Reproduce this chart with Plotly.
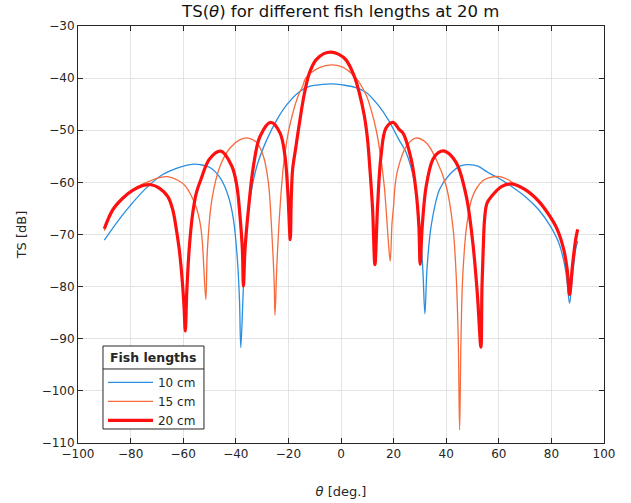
import plotly.graph_objects as go

# ---- data ----
theta_10 = [-90, -85.4, -80.4, -74.1, -67.8, -61.5, -56, -53.5, -49.7, -46, -42.8, -40.9, -39.4, -38.6, -38.1,
            -37.3, -36.5, -34.6, -32, -28.2, -24.4, -20.6, -15.8, -12, -7, -3.8, 0.6, 5.7, 9.5, 14, 18,
            22, 24.8, 28, 29.9, 31.1, 31.9, 32.7, 34.3, 37.5, 41.3, 45.7, 48.9, 52, 55.9, 60, 64.9, 70,
            75.1, 79.6, 82.8, 85.1, 86, 86.9, 88, 89.2, 90]
ts_10 = [-71.1, -67.8, -64.6, -61.1, -58.5, -57.1, -56.5, -56.6, -57.2, -59.1, -62.7, -67.1, -74.8, -82.5, -91.7,
         -82.5, -72.9, -63.3, -56.9, -51.8, -48, -45.1, -42.6, -41.6, -41.2, -41.1, -41.3, -41.8, -42.7, -45.1, -48,
         -51.8, -54.3, -60.1, -68.3, -76.6, -85.2, -76.6, -68.3, -61.3, -58.5, -56.8, -56.6, -56.9, -58.1, -59.2,
         -60.8, -62.7, -65.2, -68.4, -71.6, -76, -79.2, -83.2, -78, -72.9, -71.3]

theta_15 = [-90, -86.7, -82.9, -79.1, -75.3, -72, -69, -65.9, -62, -59, -55.2, -53.5, -52.7, -51.4, -50.8, -49.1,
            -46, -42.2, -38.4, -35.2, -32, -29.5, -27.6, -26.3, -25.4, -25.1, -24.4, -23.4, -21.9, -20, -18.1,
            -16.2, -14.6, -13.3, -8.2, -3.8, 0.6, 5.7, 9.5, 11.4, 13.4, 15.2, 16.5, 17.4, 18.1, 18.7, 19.4, 20,
            20.6, 21.6, 24.8, 28.4, 32.4, 36.2, 40, 42.5, 43.8, 44.6, 45.1, 45.6, 46.3, 47.8, 50.1, 53.9, 56.5,
            60.4, 63.6, 67.4, 70, 75.1, 79, 82.2, 84.7, 86, 86.9, 88, 89.2, 90]
ts_15 = [-69.3, -65.5, -63.1, -61.4, -60.3, -59.6, -59.1, -58.9, -59.6, -60.8, -64.6, -68, -71.6, -82.5, -72.9, -63.3,
         -56.9, -53.4, -51.8, -51.5, -52.4, -55, -60.1, -69.7, -79.3, -85.5, -76.1, -66.5, -56.9, -50.3, -46.3,
         -43.3, -41.6, -39.9, -38.0, -37.45, -37.9, -40.0, -43.2, -46, -50, -55.5, -61, -67, -72, -75.1, -67.8, -64.5,
         -60.5, -57.5, -53.1, -51.5, -52.4, -55.6, -60.7, -68.3, -77.9, -90.6, -107.5, -90.6, -77.9, -68.3, -62.6,
         -59.7, -59.1, -58.9, -59.5, -60.8, -61.2, -63.3, -65.9, -68.7, -72.6, -76.5, -81.5, -76, -71, -69.3]

theta_20 = [-90, -86.7, -82.9, -79.1, -75.3, -72.2, -69.1, -65.9, -64, -62.8, -61.5, -60.5, -59.7, -59.2, -58.6,
            -57.6, -56.4, -55, -53.3, -50, -45.7, -41.5, -39.6, -38.4, -37.5, -37.1, -36.5, -35.2, -33.3, -30.8,
            -26.7, -23.2, -21.3, -20.2, -19.3, -18.9, -18.4, -17.3, -15.8, -13.9, -12, -9.5, -6.5, -3.8, -1, 1.9,
            5.1, 7, 8.9, 10.1, 11, 12, 12.9, 13.9, 15.2, 17.1, 19.8, 22.2, 23.5, 26.7, 28.6, 29.6, 30.1, 30.9,
            32.4, 34.9, 37, 39.4, 43.8, 47.6, 50.1, 51.8, 53.2, 53.6, 54.1, 54.6, 55.5, 57.2, 61, 64.9, 70, 75.1,
            79, 82.2, 84.7, 86, 86.9, 88, 89.2, 90]
ts_20 = [-68.9, -65.2, -63, -61.5, -60.6, -60.45, -61.1, -62.7, -65.2, -68.4, -72.9, -78, -83.7, -88.5, -80.5,
         -72, -66, -62, -59.5, -55.5, -54, -56.9, -60.7, -66.5, -72.9, -79.9, -72.9, -65.2, -56.9, -51.2,
         -48.5, -50.5, -55, -62, -71, -63, -57.5, -53.7, -48.6, -42.9, -39, -36.5, -35.3, -35.0, -35.4, -36.5,
         -39.7, -42.9, -47.3, -51.8, -57.5, -65, -75.8, -64.6, -55, -49.6, -48.5, -49.9, -50.5, -55.6, -62,
         -68.3, -75.7, -68.3, -60.7, -55.6, -54.3, -54, -56.2, -62.6, -71.5, -81.1, -91.6, -80, -72.5, -67, -64,
         -62.7, -60.8, -60.3, -61.4, -63.6, -66.2, -69, -72.9, -76.7, -81.5, -76, -71, -69]

x_ticks = [-100, -80, -60, -40, -20, 0, 20, 40, 60, 80, 100]
y_ticks = [-110, -100, -90, -80, -70, -60, -50, -40, -30]
legend_title = "Fish lengths"

FONT = "DejaVu Sans"
AX = "#262626"

fig = go.Figure()
fig.add_trace(go.Scatter(x=theta_10, y=ts_10, mode="lines", name="10 cm",
                         line=dict(color="#2a8fe0", width=1.3, shape="spline", smoothing=1)))
fig.add_trace(go.Scatter(x=theta_15, y=ts_15, mode="lines", name="15 cm",
                         line=dict(color="#f76a3c", width=1.3, shape="spline", smoothing=1)))
fig.add_trace(go.Scatter(x=theta_20, y=ts_20, mode="lines", name="20 cm",
                         line=dict(color="#ff1010", width=3.2, shape="spline", smoothing=1)))

axis_common = dict(showline=True, linecolor=AX, linewidth=1, mirror="allticks", ticks="inside",
                   ticklen=5, tickcolor=AX, showgrid=True, gridcolor="#e3e3e3", gridwidth=1,
                   zeroline=False, automargin=False, tickfont=dict(family=FONT, size=12, color=AX))

# legend frame (box, title and separator)
box_x0, box_x1 = 0.0475, 0.2395
box_y0, box_y1 = 0.0336, 0.2326
sep_y = 0.1775

fig.update_layout(
    width=631, height=503,
    margin=dict(l=78, r=27, t=26, b=60),
    paper_bgcolor="white", plot_bgcolor="white",
    font=dict(family=FONT, color=AX),
    title=dict(text="TS(<i>θ</i>) for different fish lengths at 20 m", x=0.54, xanchor="center",
               y=0.977, yanchor="middle", yref="container", font=dict(size=16.5, color="#111111")),
    xaxis=dict(range=[-100, 100], tickvals=x_ticks,
               title=dict(text="<i>θ</i> [deg.]", font=dict(size=13, color=AX), standoff=26), **axis_common),
    yaxis=dict(range=[-110, -30], tickvals=y_ticks,
               title=dict(text="TS [dB]", font=dict(size=13, color=AX), standoff=12), **axis_common),
    legend=dict(x=box_x0, y=0.18, xanchor="left", yanchor="top", bgcolor="rgba(0,0,0,0)",
                borderwidth=0, font=dict(size=12, color=AX), tracegroupgap=0, itemwidth=45),
    showlegend=True,
    shapes=[
        dict(type="rect", xref="paper", yref="paper", x0=box_x0, x1=box_x1, y0=box_y0, y1=box_y1,
             fillcolor="white", line=dict(color=AX, width=1), layer="above"),
        dict(type="line", xref="paper", yref="paper", x0=box_x0, x1=box_x1, y0=sep_y, y1=sep_y,
             line=dict(color=AX, width=1), layer="above"),
    ],
    annotations=[
        dict(text="<b>" + legend_title + "</b>", xref="paper", yref="paper",
             x=(box_x0 + box_x1) / 2, y=(sep_y + box_y1) / 2, xanchor="center", yanchor="middle",
             showarrow=False, font=dict(size=12.5, color=AX)),
    ],
)

fig.write_html("out.html")
